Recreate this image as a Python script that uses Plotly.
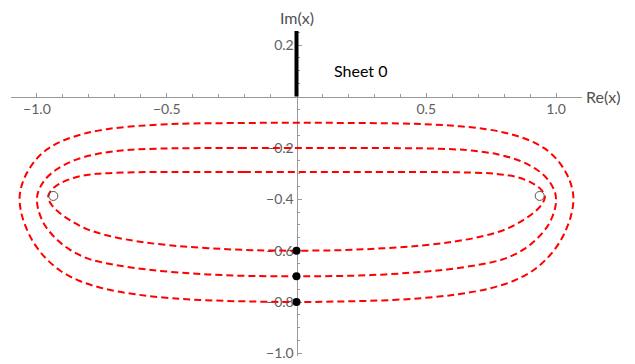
import plotly.graph_objects as go

# contour curves (Re, Im), closed loops starting at the top of the Im axis
outer_re = [0, -0.2, -0.4, -0.52, -0.63, -0.73, -0.82, -0.9, -0.96, -1.005, -1.04, -1.06, -1.067, -1.062,
            -1.046, -1.015, -0.97, -0.91, -0.835, -0.74, -0.62, -0.48, -0.32, -0.16,
            0, 0.16, 0.32, 0.48, 0.62, 0.74, 0.835, 0.91, 0.97, 1.015, 1.046, 1.062, 1.067, 1.06, 1.04,
            1.005, 0.96, 0.9, 0.82, 0.73, 0.63, 0.52, 0.4, 0.2, 0]
outer_im = [-0.102, -0.103, -0.105, -0.109, -0.116, -0.127, -0.145, -0.172, -0.205, -0.247, -0.30, -0.35,
            -0.395, -0.445, -0.50, -0.565, -0.625, -0.678, -0.718, -0.748, -0.77, -0.785, -0.794, -0.798,
            -0.80, -0.798, -0.794, -0.785, -0.77, -0.748, -0.718, -0.678, -0.625, -0.565, -0.50, -0.445,
            -0.395, -0.35, -0.30, -0.247, -0.205, -0.172, -0.145, -0.127, -0.116, -0.109, -0.105, -0.103,
            -0.102]

mid_re = [0, -0.2, -0.4, -0.54, -0.66, -0.77, -0.86, -0.925, -0.97, -0.995, -1.0, -0.995, -0.972, -0.93,
          -0.875, -0.8, -0.7, -0.58, -0.44, -0.29, -0.14,
          0, 0.14, 0.29, 0.44, 0.58, 0.7, 0.8, 0.875, 0.93, 0.972, 0.995, 1.0, 0.995, 0.97, 0.925, 0.86,
          0.77, 0.66, 0.54, 0.4, 0.2, 0]
mid_im = [-0.200, -0.200, -0.201, -0.203, -0.209, -0.224, -0.250, -0.284, -0.325, -0.37, -0.40, -0.44,
          -0.497, -0.55, -0.595, -0.632, -0.655, -0.673, -0.686, -0.695, -0.699,
          -0.70, -0.699, -0.695, -0.686, -0.673, -0.655, -0.632, -0.595, -0.55, -0.497, -0.44, -0.40,
          -0.37, -0.325, -0.284, -0.250, -0.224, -0.209, -0.203, -0.201, -0.200, -0.200]

in_re = [0, -0.2, -0.4, -0.55, -0.67, -0.77, -0.85, -0.91, -0.945, -0.957, -0.948, -0.92, -0.875, -0.81,
         -0.72, -0.61, -0.48, -0.33, -0.17,
         0, 0.17, 0.33, 0.48, 0.61, 0.72, 0.81, 0.875, 0.92, 0.948, 0.957, 0.945, 0.91, 0.85, 0.77, 0.67,
         0.55, 0.4, 0.2, 0]
in_im = [-0.294, -0.294, -0.294, -0.294, -0.296, -0.301, -0.314, -0.338, -0.365, -0.39, -0.415, -0.447,
         -0.48, -0.515, -0.543, -0.564, -0.58, -0.591, -0.598,
         -0.60, -0.598, -0.591, -0.58, -0.564, -0.543, -0.515, -0.48, -0.447, -0.415, -0.39, -0.365,
         -0.338, -0.314, -0.301, -0.296, -0.294, -0.294, -0.294, -0.294]

# branch points (open) and sheet points (filled)
branch_re = [-0.937, 0.937]
branch_im = [-0.387, -0.387]
dots_re = [0, 0, 0]
dots_im = [-0.6, -0.7, -0.8]

# thick segment on the imaginary axis
cut_re = [0, 0]
cut_im = [0, 0.255]

xticks = [-1.0, -0.5, 0.5, 1.0]
xtick_text = ["\u22121.0", "\u22120.5", "0.5", "1.0"]
yticks = [0.2, -0.2, -0.4, -0.6, -0.8, -1.0]
ytick_text = ["0.2", "\u22120.2", "\u22120.4", "\u22120.6", "\u22120.8", "\u22121.0"]

xmin, xmax = -1.1, 1.1
ymin, ymax = -1.01, 0.255

fig = go.Figure()

for re, im in [(outer_re, outer_im), (mid_re, mid_im), (in_re, in_im)]:
    fig.add_trace(go.Scatter(x=re, y=im, mode="lines", line=dict(color="red", width=2, dash="7px,4px", shape="spline"),
                             hoverinfo="skip"))

fig.add_trace(go.Scatter(x=cut_re, y=cut_im, mode="lines", line=dict(color="black", width=4), hoverinfo="skip"))
fig.add_trace(go.Scatter(x=branch_re, y=branch_im, mode="markers",
                         marker=dict(symbol="circle-open", size=9, color="#555555", line=dict(width=1))))
fig.add_trace(go.Scatter(x=dots_re, y=dots_im, mode="markers", marker=dict(color="black", size=8)))

font_name = "Lato, Open Sans, sans-serif"
tickfont = dict(family=font_name, size=14, color="#606060")

# the page body has an 8px margin, so the figure is a bit smaller than the window
fig.update_layout(
    width=627, height=356,
    margin=dict(l=3, r=53, t=23, b=8),
    paper_bgcolor="white", plot_bgcolor="white",
    showlegend=False,
    xaxis=dict(range=[xmin, xmax], showgrid=False, zeroline=False, anchor="free",
               position=(0 - ymin) / (ymax - ymin),
               showline=True, linecolor="#999999", linewidth=1,
               tickmode="array", tickvals=xticks, ticktext=xtick_text, ticks="inside", ticklen=4,
               tickcolor="#999999", tickfont=tickfont, layer="below traces",
               minor=dict(tickmode="array", tickvals=[-1.1, -0.9, -0.8, -0.7, -0.6, -0.4, -0.3, -0.2, -0.1,
                                                       0.1, 0.2, 0.3, 0.4, 0.6, 0.7, 0.8, 0.9, 1.1],
                          ticks="inside", ticklen=2.5, tickcolor="#999999")),
    yaxis=dict(range=[ymin, ymax], showgrid=False, zeroline=False, anchor="free",
               position=(0 - xmin) / (xmax - xmin),
               showline=True, linecolor="#999999", linewidth=1,
               tickmode="array", tickvals=yticks, ticktext=ytick_text, ticks="inside", ticklen=4,
               tickcolor="#999999", tickfont=tickfont, layer="below traces",
               minor=dict(tickmode="array", tickvals=[0.25, 0.15, 0.1, 0.05, -0.05, -0.1, -0.15, -0.25, -0.3,
                                                       -0.35, -0.45, -0.5, -0.55, -0.65, -0.7, -0.75, -0.85,
                                                       -0.9, -0.95],
                          ticks="inside", ticklen=2.5, tickcolor="#999999")),
    annotations=[
        dict(x=xmax, y=0, xref="x", yref="y", text="Re(x)", showarrow=False, xanchor="left", xshift=2,
             font=dict(family=font_name, size=16, color="#505050")),
        dict(x=0, y=ymax, xref="x", yref="y", text="Im(x)", showarrow=False, yanchor="bottom", yshift=2,
             font=dict(family=font_name, size=16, color="#505050")),
        dict(x=0.247, y=0.103, xref="x", yref="y", text="Sheet 0", showarrow=False,
             font=dict(family=font_name, size=16, color="black")),
    ],
)

fig.write_html("out.html")
